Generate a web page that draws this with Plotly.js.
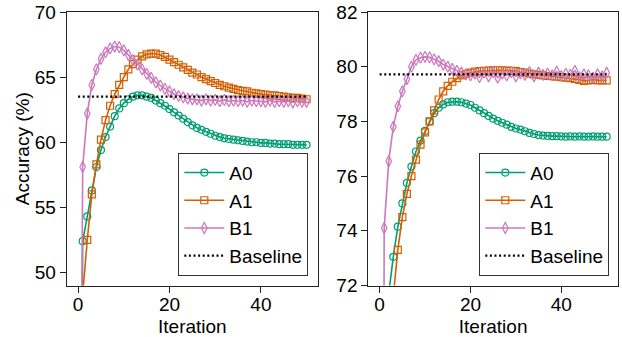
<!DOCTYPE html>
<html>
<head>
<meta charset="utf-8">
<script src="https://cdn.plot.ly/plotly-3.0.1.min.js"></script>
<style>html,body{margin:0;padding:0;background:#fff;}#chart{width:622px;height:337px;}</style>
</head>
<body>
<div id="chart"></div>
<script>
// ---- data ----
const iterations = [0,1,2,3,4,5,6,7,8,9,10,11,12,13,14,15,16,17,18,19,20,21,22,23,24,25,26,27,28,29,30,31,32,33,34,35,36,37,38,39,40,41,42,43,44,45,46,47,48,49,50];
const seriesNames = ["A0", "A1", "B1"];
const baselineLabel = "Baseline";
const baselineX = [0, 50];

// left panel
const leftA0 = [1,52.4,54.3,56.3,58.1,59.4,60.4,61.2,62.0,62.6,63.0,63.3,63.5,63.6,63.6,63.5,63.4,63.2,63.0,62.8,62.55,62.3,62.05,61.8,61.55,61.3,61.1,60.95,60.8,60.65,60.5,60.4,60.3,60.25,60.2,60.15,60.1,60.05,60.0,60.0,59.95,59.95,59.9,59.9,59.85,59.85,59.85,59.8,59.8,59.8,59.8];
const leftA1 = [1,48.3,52.5,56.0,58.3,60.2,61.7,62.8,63.7,64.4,65.0,65.6,66.0,66.35,66.6,66.75,66.8,66.8,66.7,66.55,66.35,66.15,65.95,65.75,65.55,65.35,65.2,65.0,64.85,64.7,64.55,64.4,64.3,64.2,64.1,64.0,63.95,63.9,63.8,63.75,63.7,63.65,63.6,63.6,63.55,63.5,63.45,63.4,63.4,63.35,63.3];
const leftB1 = [1,58.1,62.2,64.4,65.6,66.4,66.9,67.2,67.35,67.3,67.05,66.7,66.3,65.95,65.6,65.25,64.95,64.6,64.35,64.1,63.9,63.7,63.55,63.45,63.35,63.3,63.3,63.2,63.3,63.2,63.25,63.15,63.25,63.15,63.2,63.15,63.2,63.1,63.2,63.15,63.15,63.1,63.2,63.1,63.15,63.1,63.15,63.05,63.15,63.1,63.1];
const leftBaseline = [63.5, 63.5];

// right panel
const rightA0 = [5,62,71.7,73.05,74.15,75.0,75.75,76.35,76.9,77.3,77.65,78.0,78.3,78.5,78.62,78.7,78.72,78.72,78.7,78.65,78.6,78.5,78.4,78.3,78.2,78.1,78.02,77.95,77.88,77.8,77.74,77.7,77.64,77.58,77.54,77.5,77.48,77.47,77.46,77.46,77.45,77.44,77.45,77.44,77.45,77.44,77.44,77.45,77.44,77.44,77.44];
const rightA1 = [5,50,65,71.6,73.3,74.5,75.35,76.0,76.6,77.15,77.6,78.0,78.4,78.8,79.1,79.3,79.45,79.58,79.68,79.74,79.78,79.82,79.84,79.85,79.86,79.87,79.87,79.87,79.86,79.85,79.84,79.8,79.78,79.75,79.72,79.7,79.68,79.66,79.65,79.64,79.62,79.6,79.58,79.55,79.52,79.48,79.5,79.52,79.5,79.5,79.5];
const rightB1 = [5,74.1,76.55,77.8,78.55,79.1,79.55,80.0,80.25,80.33,80.36,80.34,80.27,80.2,80.08,80.0,79.92,79.85,79.78,79.72,79.68,79.75,79.62,79.78,79.65,79.8,79.6,79.75,79.68,79.8,79.65,79.76,79.7,79.8,79.65,79.78,79.7,79.75,79.68,79.82,79.66,79.74,79.7,79.85,79.62,79.72,79.68,79.6,79.72,79.65,79.78];
const rightBaseline = [79.72, 79.72];

const leftYTicks = [50, 55, 60, 65, 70];
const rightYTicks = [72, 74, 76, 78, 80, 82];
const xTicks = [0, 20, 40];

// ---- styles ----
const colors = {A0: "#029e73", A1: "#d55e00", B1: "#cc78bc"};
const symbols = {A0: "circle-open", A1: "square-open", B1: "diamond-tall-open"};
const sizes = {A0: 7, A1: 7, B1: 8};
const FONT = "Liberation Sans, Arial, Helvetica, sans-serif";

function panelTraces(vals, base, xa, ya, legendName) {
  const out = seriesNames.map((name, i) => ({
    type: "scatter", mode: "lines+markers", name: name,
    x: iterations, y: vals[i], xaxis: xa, yaxis: ya,
    legend: legendName, legendgroup: legendName + name,
    line: {color: colors[name], width: 1.6},
    marker: {symbol: symbols[name], size: sizes[name], color: colors[name], line: {width: 1.2, color: colors[name]}},
    cliponaxis: true
  }));
  out.push({
    type: "scatter", mode: "lines", name: baselineLabel,
    x: baselineX, y: base, xaxis: xa, yaxis: ya,
    legend: legendName, legendgroup: legendName + "base",
    line: {color: "#000", width: 2.2, dash: "2px,2.6px"}
  });
  return out;
}

const data = [
  ...panelTraces([leftA0, leftA1, leftB1], leftBaseline, "x", "y", "legend"),
  ...panelTraces([rightA0, rightA1, rightB1], rightBaseline, "x2", "y2", "legend2")
];

const W = 622, H = 337;
const axisCommon = {
  showgrid: false, zeroline: false, showline: true, linecolor: "#222", linewidth: 1,
  mirror: true, ticks: "outside", ticklen: 6, tickwidth: 1, tickcolor: "#222",
  tickfont: {family: FONT, size: 19, color: "#000"}
};
const yTop = 1 - 12 / H, yBot = 1 - 285.5 / H;

const legendCommon = {
  bordercolor: "#333", borderwidth: 1, bgcolor: "#fff",
  font: {family: FONT, size: 19, color: "#000"},
  itemwidth: 40, traceorder: "grouped", tracegroupgap: 0,
  xanchor: "right", yanchor: "bottom"
};

const layout = {
  width: W, height: H,
  margin: {l: 0, r: 0, t: 0, b: 0},
  paper_bgcolor: "#fff", plot_bgcolor: "#fff",
  font: {family: FONT, size: 19, color: "#000"},
  showlegend: true,
  xaxis: Object.assign({}, axisCommon, {domain: [66.7 / W, 318 / W], range: [-2.5, 52.5], tickvals: xTicks, anchor: "y",
    ticklabelstandoff: -4,
    title: {text: "Iteration", font: {family: FONT, size: 19}, standoff: 6}}),
  yaxis: Object.assign({}, axisCommon, {domain: [yBot, yTop], range: [49, 70], tickvals: leftYTicks, anchor: "x",
    title: {text: "Accuracy (%)", font: {family: FONT, size: 19}, standoff: 0}}),
  xaxis2: Object.assign({}, axisCommon, {domain: [368.3 / W, 618 / W], range: [-2.5, 52.5], tickvals: xTicks, anchor: "y2",
    ticklabelstandoff: -4,
    title: {text: "Iteration", font: {family: FONT, size: 19}, standoff: 6}}),
  yaxis2: Object.assign({}, axisCommon, {domain: [yBot, yTop], range: [72, 82], tickvals: rightYTicks, anchor: "x2"}),
  legend: Object.assign({}, legendCommon, {x: 308.3 / W, y: 1 - 275.7 / H}),
  legend2: Object.assign({}, legendCommon, {x: 609.3 / W, y: 1 - 275.7 / H})
};

Plotly.newPlot("chart", data, layout, {displayModeBar: false, staticPlot: true});
</script>
</body>
</html>
